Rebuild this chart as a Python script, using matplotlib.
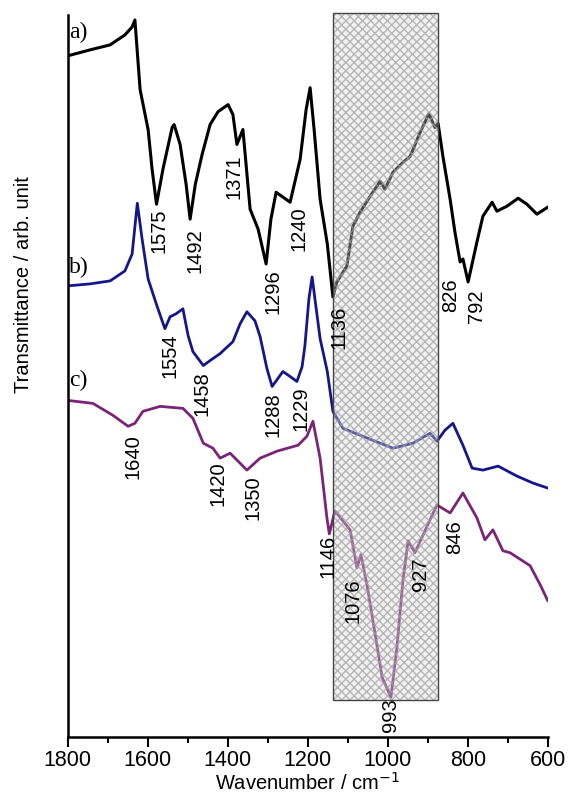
import matplotlib
matplotlib.use("Agg")
import matplotlib.pyplot as plt
from matplotlib.patches import Rectangle

# spectrum a) (black)
wn_a = [1800, 1744, 1694, 1657, 1639, 1632, 1619, 1599, 1589, 1578, 1562, 1539, 1534,
        1519, 1504, 1494, 1481, 1464, 1444, 1424, 1399, 1387, 1377, 1362, 1344, 1324,
        1304, 1292, 1279, 1244, 1219, 1204, 1194, 1184, 1169, 1151, 1137, 1127, 1102,
        1087, 1069, 1044, 1019, 1007, 987, 962, 944, 919, 897, 882, 874, 862, 844, 832,
        819, 812, 799, 777, 762, 739, 727, 702, 674, 652, 627, 600]
t_a = [685, 691, 696, 706, 714, 721, 651, 611, 571, 536, 571, 613, 616,
       596, 556, 521, 556, 586, 616, 629, 636, 626, 596, 611, 531, 511,
       476, 521, 548, 538, 581, 631, 653, 611, 541, 496, 443, 458, 474,
       514, 528, 544, 559, 551, 568, 578, 584, 608, 627, 613, 617, 584, 541, 508,
       478, 481, 458, 498, 524, 538, 529, 534, 542, 536, 526, 533]

# spectrum b) (blue)
wn_b = [1800, 1744, 1694, 1657, 1639, 1626, 1614, 1599, 1577, 1557, 1544, 1529, 1512,
        1499, 1487, 1461, 1444, 1419, 1387, 1369, 1352, 1332, 1319, 1302, 1289, 1262,
        1244, 1227, 1214, 1207, 1197, 1189, 1182, 1169, 1151, 1137, 1112, 1069, 987,
        937, 894, 877, 857, 837, 812, 789, 762, 724, 677, 637, 600]
t_b = [454, 456, 459, 469, 486, 537, 501, 461, 434, 411, 423, 426, 431,
       404, 388, 374, 379, 386, 398, 416, 428, 419, 403, 371, 353, 368,
       363, 358, 373, 394, 441, 463, 441, 401, 368, 328, 311, 304, 291,
       296, 306, 298, 309, 316, 294, 271, 269, 273, 263, 256, 251]

# spectrum c) (purple)
wn_c = [1800, 1737, 1687, 1649, 1632, 1612, 1569, 1512, 1487, 1461, 1437, 1419, 1394,
        1352, 1319, 1277, 1224, 1202, 1187, 1169, 1152, 1146, 1132, 1094, 1077, 1067,
        1052, 1037, 1014, 992, 977, 962, 949, 932, 907, 877, 844, 812, 777, 757, 737,
        712, 694, 644, 619, 600]
t_c = [339, 336, 324, 313, 316, 328, 333, 331, 321, 296, 291, 281, 286,
       269, 281, 288, 294, 303, 318, 281, 221, 205, 228, 209, 171, 184,
       154, 118, 61, 41, 91, 158, 198, 186, 208, 234, 226, 246, 221, 199, 209,
       188, 186, 173, 154, 138]

# band assignments
peaks_a = ["1575", "1492", "1371", "1296", "1240", "1136", "826", "792"]
peaks_a_x = [1571, 1481, 1384, 1286, 1221, 1121, 843, 779]
peaks_a_y = [509, 489, 564, 448, 511, 412, 445, 434]

peaks_b = ["1554", "1458", "1288", "1229"]
peaks_b_x = [1544, 1464, 1287, 1217]
peaks_b_y = [384, 346, 325, 331]

peaks_c = ["1640", "1420", "1350", "1146", "1076", "927", "846", "993"]
peaks_c_x = [1637, 1424, 1337, 1149, 1087, 919, 832, 992]
peaks_c_y = [283, 255, 241, 182, 138, 164, 202, 23]

# highlighted region
region = (1138, 874)
region_y = (38, 728)

fig = plt.figure(figsize=(5.69, 7.94), dpi=100)
ax = fig.add_axes([0.119, 0.0718, 0.8436, 0.9093])

ax.plot(wn_a, t_a, color="black", lw=2.2, zorder=2)
ax.plot(wn_b, t_b, color="#16168c", lw=2.0, zorder=2)
ax.plot(wn_c, t_c, color="#7a2478", lw=2.0, zorder=2)

# hatched box over the 1136-874 cm-1 region
ax.add_patch(Rectangle((region[1], region_y[0]), region[0] - region[1], region_y[1] - region_y[0],
                       facecolor=(0.85, 0.85, 0.85, 0.35), edgecolor=(0.62, 0.62, 0.62, 0.7),
                       hatch="xxxx", lw=0, zorder=3, clip_on=False))
ax.add_patch(Rectangle((region[1], region_y[0]), region[0] - region[1], region_y[1] - region_y[0],
                       facecolor="none", edgecolor="#444444", lw=1.0, zorder=4, clip_on=False))

sans = ["Liberation Sans", "DejaVu Sans"]
for labels, xs, ys in [(peaks_a, peaks_a_x, peaks_a_y),
                       (peaks_b, peaks_b_x, peaks_b_y),
                       (peaks_c, peaks_c_x, peaks_c_y)]:
    for lab, x, y in zip(labels, xs, ys):
        ax.text(x, y, lab, rotation=90, ha="center", va="center",
                fontsize=14.5, family=sans, zorder=5)

for lab, y in [("a)", 708), ("b)", 473), ("c)", 359)]:
    ax.text(1797, y, lab, ha="left", va="center", fontsize=17,
            family=["Liberation Serif", "DejaVu Serif"], zorder=5)

ax.set_xlim(1800, 600)
ax.set_ylim(1, 726)
ax.set_xticks([1800, 1600, 1400, 1200, 1000, 800, 600])
ax.set_xticks([1700, 1500, 1300, 1100, 900, 700], minor=True)
ax.set_yticks([])
ax.tick_params(axis="x", which="major", length=7, width=1.5, direction="out", pad=2.5,
               labelsize=15.5)
ax.tick_params(axis="x", which="minor", length=4, width=1.5, direction="out")
for lbl in ax.get_xticklabels():
    lbl.set_family(sans)

for side in ["top", "right"]:
    ax.spines[side].set_visible(False)
ax.spines["left"].set_linewidth(1.8)
ax.spines["bottom"].set_linewidth(1.8)

# axis titles placed by hand, the reference leaves very little room below the ticks
fig.text(307 / 569, 1 - 789.5 / 794, "Wavenumber / cm$^{-1}$", ha="center", va="baseline",
         fontsize=14.5, family=sans)
fig.text(24 / 569, 1 - 285 / 794, "Transmittance / arb. unit", rotation=90, ha="center",
         va="center", fontsize=14.5, family=sans)

fig.savefig("out.png", dpi=100)
